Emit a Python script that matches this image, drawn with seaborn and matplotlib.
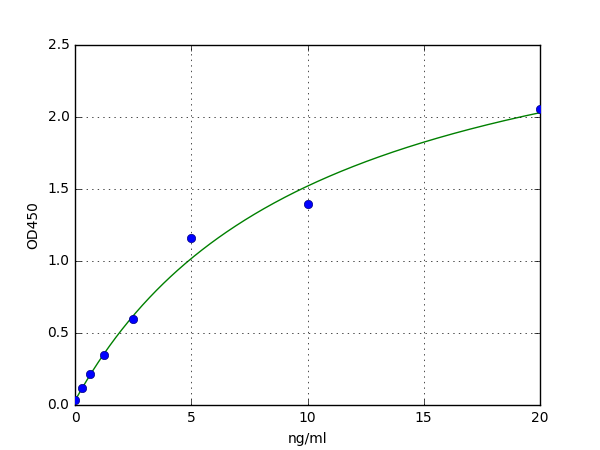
import numpy as np
import pandas as pd
import matplotlib
matplotlib.use("Agg")
import matplotlib.pyplot as plt
import seaborn as sns

# Standard concentrations (ng/ml) and measured OD450
conc = [0, 0.3125, 0.625, 1.25, 2.5, 5, 10, 20]
od450 = [0.035, 0.118, 0.215, 0.347, 0.597, 1.16, 1.396, 2.056]

# fitted curve parameters (hyperbolic fit with offset)
fit_y0 = 0.03
fit_vmax = 3.04
fit_k = 10.4

plt.style.use("classic")
plt.rcParams["font.family"] = ["DejaVu Sans"]

fig = plt.figure(figsize=(6, 4.5), dpi=100, facecolor="white")
ax = fig.add_axes([0.125, 0.1, 0.775, 0.8])
ax.set_facecolor("white")

xs = np.linspace(0, 20, 400)
curve = pd.DataFrame({"x": xs, "y": fit_y0 + fit_vmax * xs / (fit_k + xs)})
pts = pd.DataFrame({"x": conc, "y": od450})

sns.lineplot(data=curve, x="x", y="y", ax=ax, color="green", linewidth=1.0, zorder=2)
sns.scatterplot(data=pts, x="x", y="y", ax=ax, color="blue", edgecolor="#000080",
                s=36, linewidth=0.5, zorder=3, clip_on=True)

ax.set_xlim(0, 20)
ax.set_ylim(0, 2.5)
ax.set_xticks([0, 5, 10, 15, 20])
ax.set_yticks([0.0, 0.5, 1.0, 1.5, 2.0, 2.5])
ax.set_yticklabels(["0.0", "0.5", "1.0", "1.5", "2.0", "2.5"])
ax.grid(True, linestyle=":", color="black", linewidth=0.5)
ax.set_xlabel("ng/ml", fontsize=10)
ax.set_ylabel("OD450", fontsize=10)
ax.tick_params(labelsize=10, direction="in", top=True, right=True)

fig.savefig("out.png", dpi=100, facecolor="white")
